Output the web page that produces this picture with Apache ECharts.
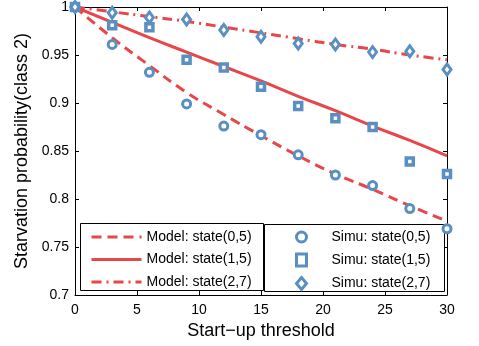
<!DOCTYPE html>
<html>
<head>
<meta charset="utf-8">
<script src="https://cdn.jsdelivr.net/npm/echarts@6/dist/echarts.min.js"></script>
<style>
  html, body { margin: 0; padding: 0; background: #fff; }
  #chart { width: 479px; height: 346px; }
</style>
</head>
<body>
<div id="chart"></div>
<script>
var thresholds = [0, 3, 6, 9, 12, 15, 18, 21, 24, 27, 30];

// model curves
var model05 = [1.0, 0.968, 0.939, 0.911, 0.888, 0.866, 0.845, 0.826, 0.810, 0.793, 0.777];
var model15 = [1.0, 0.984, 0.968, 0.953, 0.938, 0.923, 0.907, 0.892, 0.876, 0.861, 0.845];
var model27 = [1.0, 0.995, 0.990, 0.985, 0.979, 0.973, 0.967, 0.961, 0.956, 0.950, 0.945];

// simulation points
var simu05 = [1.0, 0.961, 0.932, 0.899, 0.876, 0.867, 0.846, 0.825, 0.814, 0.790, 0.769];
var simu15 = [1.0, 0.981, 0.979, 0.945, 0.937, 0.917, 0.897, 0.884, 0.875, 0.839, 0.826];
var simu27 = [1.0, 0.994, 0.989, 0.987, 0.976, 0.969, 0.962, 0.961, 0.953, 0.954, 0.935];

var red = '#e8474a';
var blue = '#5a8fc3';
var font = 'Liberation Sans, Arial, sans-serif';

function pairs(xs, ys) {
  return xs.map(function(x, i) { return [x, ys[i]]; });
}

function modelSeries(name, ys, type) {
  return {
    name: name,
    type: 'line',
    data: pairs(thresholds, ys),
    symbol: 'none',
    smooth: true,
    lineStyle: { color: red, width: 3, type: type },
    itemStyle: { color: red },
    z: 2
  };
}

function simuSeries(name, ys, symbol, size, border) {
  return {
    name: name,
    type: 'scatter',
    data: pairs(thresholds, ys),
    symbol: symbol,
    symbolSize: size,
    clip: false,
    itemStyle: { color: '#fff', borderColor: blue, borderWidth: border, opacity: 1 },
    z: 5
  };
}

var axisBase = {
  type: 'value',
  axisLine: { show: true, onZero: false, lineStyle: { color: '#000', width: 1 } },
  axisTick: { show: true, inside: true, length: 4, lineStyle: { color: '#000' } },
  splitLine: { show: false }
};

var chart = echarts.init(document.getElementById('chart'));
chart.setOption({
  animation: false,
  backgroundColor: '#fff',
  textStyle: { fontFamily: font },
  grid: { left: 75, right: 32, top: 6, bottom: 51 },
  xAxis: [
    Object.assign({}, axisBase, {
      min: 0, max: 30, interval: 5,
      name: 'Start\u2212up threshold',
      nameLocation: 'middle',
      nameGap: 24,
      nameTextStyle: { fontSize: 18, color: '#000', fontFamily: font },
      axisLabel: { fontSize: 14, color: '#000', margin: 8, fontFamily: font }
    }),
    Object.assign({}, axisBase, {
      position: 'top', min: 0, max: 30, interval: 5,
      axisLabel: { show: false }
    })
  ],
  yAxis: [
    Object.assign({}, axisBase, {
      min: 0.7, max: 1, interval: 0.05,
      name: 'Starvation probability(class 2)',
      nameLocation: 'middle',
      nameGap: 42,
      nameTextStyle: { fontSize: 18, color: '#000', fontFamily: font },
      axisLabel: { fontSize: 14, color: '#000', margin: 6, fontFamily: font }
    }),
    Object.assign({}, axisBase, {
      position: 'right', min: 0.7, max: 1, interval: 0.05,
      axisLabel: { show: false }
    })
  ],
  graphic: [
    { type: 'rect', z: 3, shape: { x: 80.5, y: 223.5, width: 183, height: 67 },
      style: { fill: '#fff', stroke: '#000', lineWidth: 1 } },
    { type: 'rect', z: 3, shape: { x: 264.5, y: 224.5, width: 180, height: 67 },
      style: { fill: '#fff', stroke: '#000', lineWidth: 1 } }
  ],
  legend: [
    {
      data: ['Model: state(0,5)', 'Model: state(1,5)', 'Model: state(2,7)'],
      orient: 'vertical',
      left: 85, top: 225,
      itemWidth: 50, itemHeight: 12, itemGap: 8.5,
      itemStyle: { opacity: 0 },
      lineStyle: { width: 3 },
      textStyle: { fontSize: 14, color: '#000', fontFamily: font },
      z: 10
    },
    {
      data: [
        { name: 'Simu: state(0,5)', icon: 'circle' },
        { name: 'Simu: state(1,5)', icon: 'rect' },
        { name: 'Simu: state(2,7)', icon: 'diamond' }
      ],
      orient: 'vertical',
      left: 290, top: 225,
      itemWidth: 10, itemHeight: 12, itemGap: 8.5,
      itemStyle: { borderWidth: 3 },
      textStyle: { fontSize: 14, color: '#000', fontFamily: font, padding: [0, 0, 0, 20] },
      z: 10
    }
  ],
  series: [
    modelSeries('Model: state(0,5)', model05, [10, 6]),
    modelSeries('Model: state(1,5)', model15, 'solid'),
    modelSeries('Model: state(2,7)', model27, [10, 5, 2, 5]),
    simuSeries('Simu: state(0,5)', simu05, 'circle', 8, 3),
    simuSeries('Simu: state(1,5)', simu15, 'rect', 7, 3.5),
    simuSeries('Simu: state(2,7)', simu27, 'diamond', [8, 11], 3)
  ]
});
</script>
</body>
</html>
